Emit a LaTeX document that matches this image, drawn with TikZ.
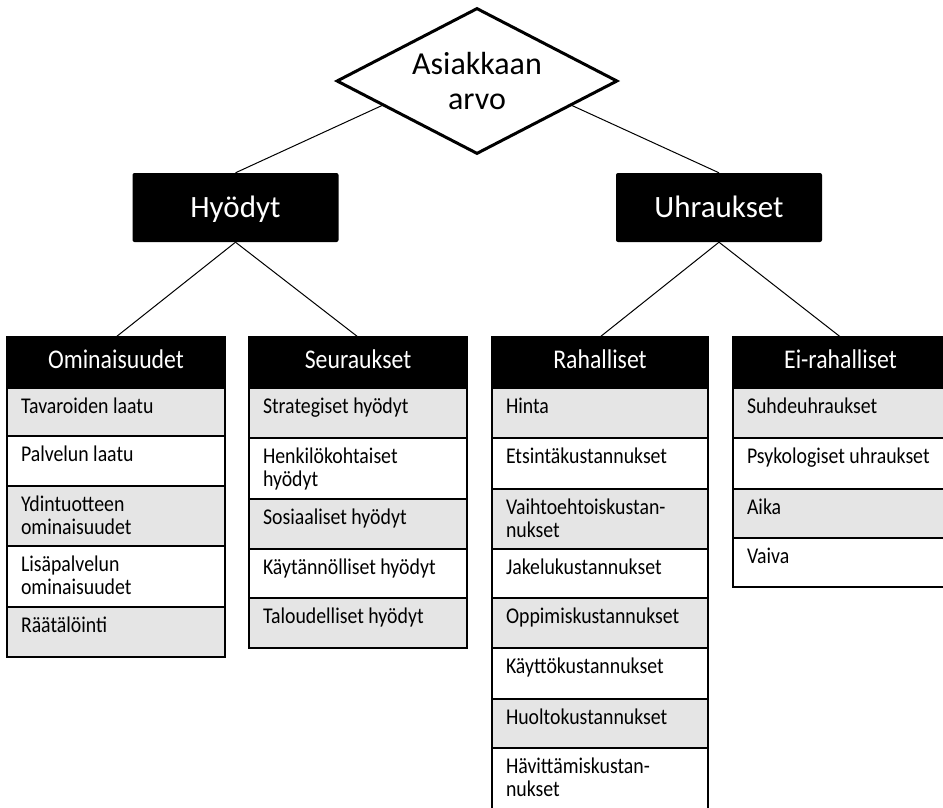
\documentclass[tikz,border=0pt]{standalone}
\usepackage{fontspec}
\setmainfont{Carlito}
\newfontfamily\narrowfont[FakeStretch=0.88]{Carlito}
\usepackage{tikz}
\usetikzlibrary{positioning, shapes.geometric, calc}

\begin{document}
\begin{tikzpicture}[
    x=1pt, y=-1pt,
    value/.style={diamond, draw=black, line width=3pt, fill=white, aspect=2, inner sep=0pt,
                  minimum width=281pt, minimum height=146pt, align=center,
                  font=\fontsize{32}{35}\selectfont},
    groupbox/.style={rectangle, fill=black, rounded corners=2pt, text=white, inner sep=0pt,
                  minimum width=206pt, minimum height=69pt, text height=25pt, text depth=5pt,
                  font=\fontsize{31}{35}\selectfont},
    colhead/.style={rectangle, draw=black, fill=black, line width=1.5pt, text=white,
                  anchor=north west, outer sep=0pt, inner sep=0pt, minimum width=#1,
                  text height=31pt, text depth=20pt, font=\narrowfont\fontsize{27}{30}\selectfont},
    entry/.style={rectangle, draw=black, line width=1.5pt, anchor=north west, outer sep=0pt,
                  inner xsep=14pt, inner ysep=0pt, text width=#1, align=flush left,
                  text height=25pt, font=\narrowfont\fontsize{22.5}{23}\selectfont},
    greyrow/.style={fill=gray!20},
    conn/.style={line width=1pt}
]
    \useasboundingbox (0,0) rectangle (943,808);

    % Top
    \node[value] (arvo) at (477, 81) {Asiakkaan\\arvo};

    % Benefits and sacrifices
    \node[groupbox] (hyodyt) at (235.5, 207.5) {Hyödyt};
    \node[groupbox] (uhr) at (719, 207.5) {Uhraukset};

    % Ominaisuudet
    \node[colhead=218pt] (omin) at (7, 337) {Ominaisuudet};
    \node[entry=190pt, greyrow, text depth=23pt] (omin1) at (omin.south west) {Tavaroiden laatu};
    \node[entry=190pt, text depth=25pt] (omin2) at (omin1.south west) {Palvelun laatu};
    \node[entry=190pt, greyrow, text depth=35pt] (omin3) at (omin2.south west) {Ydintuotteen\\ominaisuudet};
    \node[entry=190pt, text depth=36pt] (omin4) at (omin3.south west) {Lisäpalvelun\\ominaisuudet};
    \node[entry=190pt, greyrow, text depth=25pt] (omin5) at (omin4.south west) {Räätälöinti};

    % Seuraukset
    \node[colhead=218pt] (seur) at (249, 337) {Seuraukset};
    \node[entry=190pt, greyrow, text depth=25pt] (seur1) at (seur.south west) {Strategiset hyödyt};
    \node[entry=190pt, text depth=36pt] (seur2) at (seur1.south west) {Henkilökohtaiset\\hyödyt};
    \node[entry=190pt, greyrow, text depth=25pt] (seur3) at (seur2.south west) {Sosiaaliset hyödyt};
    \node[entry=190pt, text depth=24pt] (seur4) at (seur3.south west) {Käytännölliset hyödyt};
    \node[entry=190pt, greyrow, text depth=25pt] (seur5) at (seur4.south west) {Taloudelliset hyödyt};

    % Rahalliset
    \node[colhead=216pt] (raha) at (492, 337) {Rahalliset};
    \node[entry=188pt, greyrow, text depth=25pt] (raha1) at (raha.south west) {Hinta};
    \node[entry=188pt, text depth=26pt] (raha2) at (raha1.south west) {Etsintäkustannukset};
    \node[entry=188pt, greyrow, text depth=35pt] (raha3) at (raha2.south west) {Vaihtoehtoiskustan-\\nukset};
    \node[entry=188pt, text depth=24pt] (raha4) at (raha3.south west) {Jakelukustannukset};
    \node[entry=188pt, greyrow, text depth=25pt] (raha5) at (raha4.south west) {Oppimiskustannukset};
    \node[entry=188pt, text depth=26pt] (raha6) at (raha5.south west) {Käyttökustannukset};
    \node[entry=188pt, greyrow, text depth=24pt] (raha7) at (raha6.south west) {Huoltokustannukset};
    \node[entry=188pt, text depth=37pt] (raha8) at (raha7.south west) {Hävittämiskustan-\\nukset};

    % Ei-rahalliset
    \node[colhead=215pt] (eiraha) at (733, 337) {Ei-rahalliset};
    \node[entry=190pt, greyrow, text depth=25pt] (eiraha1) at (eiraha.south west) {Suhdeuhraukset};
    \node[entry=190pt, text depth=26pt] (eiraha2) at (eiraha1.south west) {Psykologiset uhraukset};
    \node[entry=190pt, greyrow, text depth=24pt] (eiraha3) at (eiraha2.south west) {Aika};
    \node[entry=190pt, text depth=24pt] (eiraha4) at (eiraha3.south west) {Vaiva};

    % Connections
    \draw[conn] ($(arvo.west)!0.33!(arvo.south)$) -- (hyodyt.north);
    \draw[conn] ($(arvo.east)!0.33!(arvo.south)$) -- (uhr.north);
    \draw[conn] (hyodyt.south) -- (omin.north);
    \draw[conn] (hyodyt.south) -- (seur.north);
    \draw[conn] (uhr.south) -- (raha.north);
    \draw[conn] (uhr.south) -- (eiraha.north);

\end{tikzpicture}
\end{document}
